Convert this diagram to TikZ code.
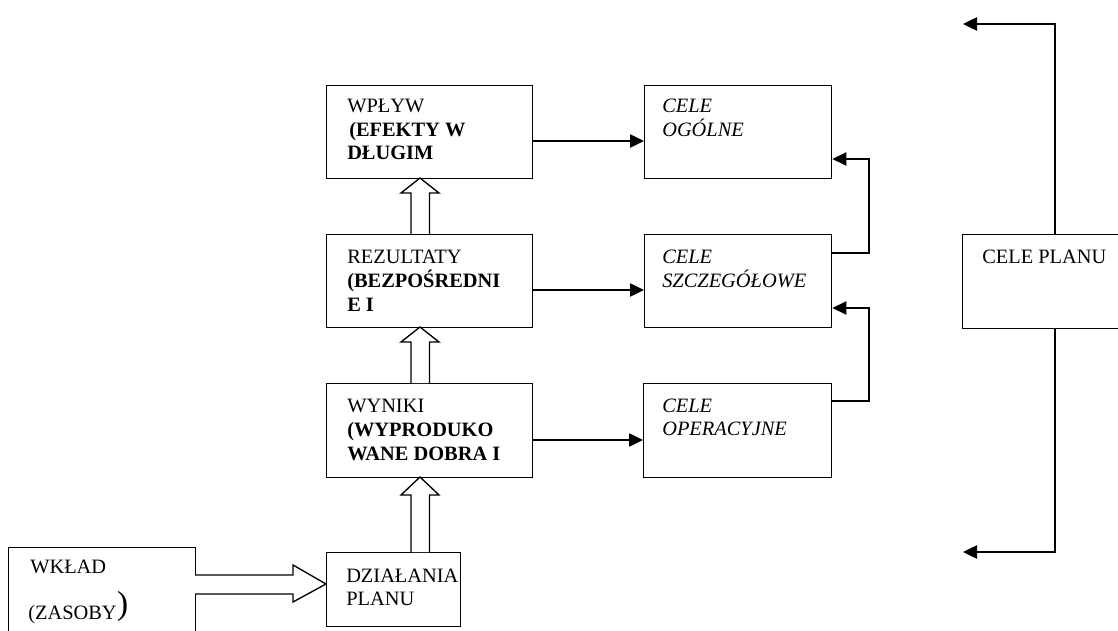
\documentclass[tikz,border=0pt]{standalone}
\usepackage{fontspec}
\setmainfont{Liberation Serif}
\usetikzlibrary{arrows.meta}
\tikzset{
  bx/.style 2 args={draw, line width=1pt, anchor=north west, inner sep=0pt,
    minimum width=#1*0.75pt, minimum height=#2*0.75pt},
  txt/.style={anchor=base west, inner sep=0pt, font=\fontsize{15.3}{18}\selectfont},
  btxt/.style={txt, font=\fontsize{15.3}{18}\selectfont\bfseries},
  itxt/.style={txt, font=\fontsize{15.3}{18}\selectfont\itshape},
  conn/.style={line width=1pt, -{Triangle[length=10.5pt,width=10pt]}},
  hollow/.style={draw, line width=1pt, fill=white, line join=miter}
}
\begin{document}
\begin{tikzpicture}[x=0.75pt,y=-0.75pt]
\useasboundingbox (0,0) rectangle (1118,631);
\clip (0,0) rectangle (1118,631);
% boxes
\node[bx={206}{93}] (wplyw) at (326,85) {};
\node[bx={206}{93}] (rez) at (326,234) {};
\node[bx={206}{94}] (wyn) at (326,383) {};
\node[bx={134}{74}] (dzial) at (326,552) {};
\node[bx={187}{110}] (wklad) at (8,547) {};
\node[bx={187}{93}] (ogol) at (644,85) {};
\node[bx={187}{93}] (szcz) at (644,234) {};
\node[bx={188}{94}] (oper) at (643,383) {};
\node[bx={180}{94}] (plan) at (962,234) {};
% texts
\node[txt] (t1) at (347,113) {WPŁYW};
\node[btxt] (t2) at (349,137) {(EFEKTY W};
\node[btxt] (t3) at (347,160) {DŁUGIM};
\node[txt] (t4) at (347,263) {REZULTATY};
\node[btxt] (t5) at (347,287) {(BEZPOŚREDNI};
\node[btxt] (t6) at (347,311) {E I};
\node[txt] (t7) at (347,412) {WYNIKI};
\node[btxt] (t8) at (347,436) {(WYPRODUKO};
\node[btxt] (t9) at (347,460) {WANE DOBRA I};
\node[txt] (t10) at (346,582) {DZIAŁANIA};
\node[txt] (t11) at (346,605) {PLANU};
\node[txt] (t12) at (30,573) {WKŁAD};
\node[txt] (t13) at (28,619) {(ZASOBY};
\node[txt, font=\fontsize{25}{28}\selectfont] (t14) at (t13.base east) [yshift=3.5pt] {)};
\node[itxt] (t15) at (662,113) {CELE};
\node[itxt] (t16) at (662,137) {OGÓLNE};
\node[itxt] (t17) at (662,263) {CELE};
\node[itxt] (t18) at (662,287) {SZCZEGÓŁOWE};
\node[itxt] (t19) at (662,412) {CELE};
\node[itxt] (t20) at (662,435) {OPERACYJNE};
\node[txt] (t21) at (982,263) {CELE PLANU};
% hollow arrows
\draw[hollow] (411,552) -- (411,495) -- (401,495) -- (420,477) -- (439,495) -- (429.5,495) -- (429.5,552);
\draw[hollow] (411,383) -- (411,342) -- (401,342) -- (420,327) -- (439,342) -- (429.5,342) -- (429.5,383);
\draw[hollow] (411,234) -- (411,193) -- (401,193) -- (420,178) -- (439,193) -- (429.5,193) -- (429.5,234);
\draw[hollow] (195,575) -- (293,575) -- (293,565) -- (326,584) -- (293,602) -- (293,594) -- (195,594);
% connectors
\draw[conn] (wplyw.east |- 0,141) -- (ogol.west |- 0,141);
\draw[conn] (rez.east |- 0,290) -- (szcz.west |- 0,290);
\draw[conn] (wyn.east |- 0,440) -- (oper.west |- 0,440);
\draw[conn] (szcz.east |- 0,253) -| (869,159) -- (ogol.east |- 0,159);
\draw[conn] (oper.east |- 0,401) -| (869,308) -- (szcz.east |- 0,308);
\coordinate (topend) at (963,24);
\coordinate (botend) at (963,552);
\draw[conn] (plan.north -| 1055,0) |- (topend);
\draw[conn] (plan.south -| 1055,0) |- (botend);
\end{tikzpicture}
\end{document}
